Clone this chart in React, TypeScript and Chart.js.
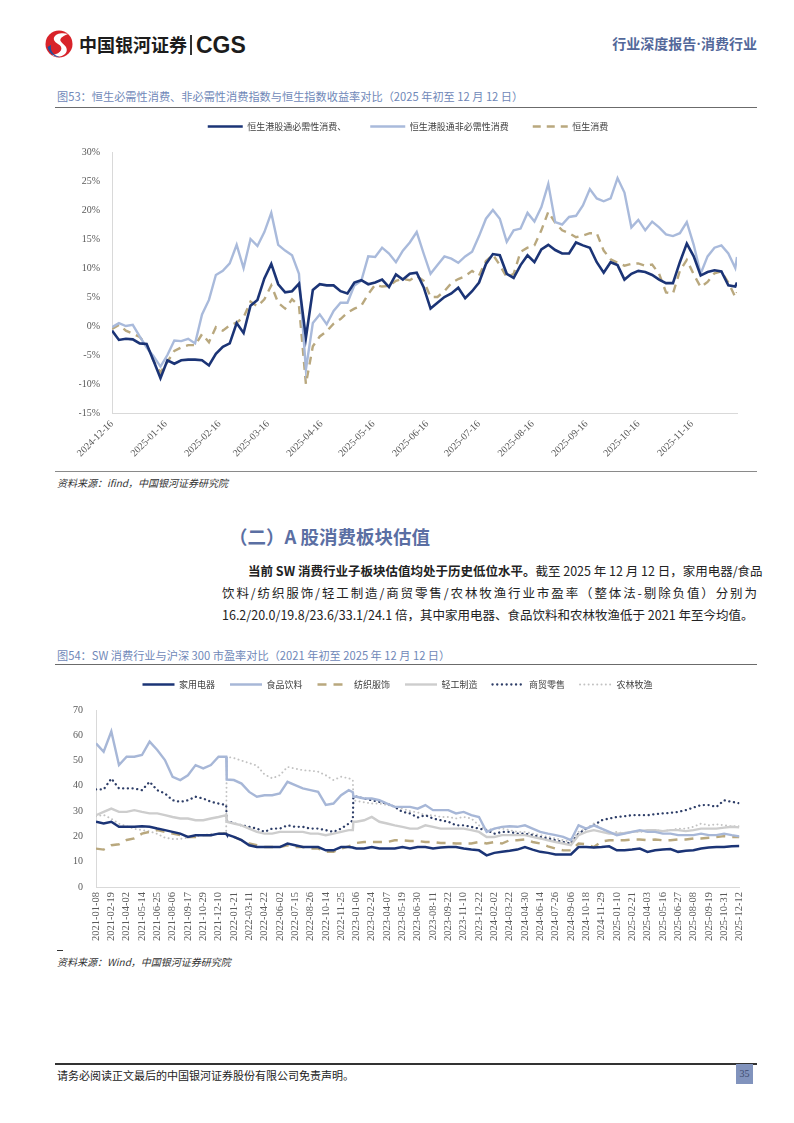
import React, { useEffect, useRef } from 'react';
import { Chart, registerables } from 'chart.js';

Chart.register(...registerables);

// ---------------- Chart 1 (图53) ----------------
const c1Names = ['恒生港股通必需性消费、', '恒生港股通非必需性消费', '恒生消费'];
const c1TickDates = ['2024-12-16', '2025-01-16', '2025-02-16', '2025-03-16', '2025-04-16', '2025-05-16', '2025-06-16', '2025-07-16', '2025-08-16', '2025-09-16', '2025-10-16', '2025-11-16'];
const c1Dates = [
  '2024-12-16', '2024-12-20', '2024-12-24', '2024-12-28', '2025-01-01', '2025-01-05', '2025-01-09', '2025-01-13', '2025-01-17', '2025-01-21',
  '2025-01-25', '2025-01-29', '2025-02-02', '2025-02-06', '2025-02-10', '2025-02-14', '2025-02-18', '2025-02-22', '2025-02-26', '2025-03-02',
  '2025-03-06', '2025-03-10', '2025-03-14', '2025-03-18', '2025-03-22', '2025-03-26', '2025-03-30', '2025-04-03', '2025-04-07', '2025-04-11',
  '2025-04-15', '2025-04-19', '2025-04-23', '2025-04-27', '2025-05-01', '2025-05-05', '2025-05-09', '2025-05-13', '2025-05-17', '2025-05-21',
  '2025-05-25', '2025-05-29', '2025-06-02', '2025-06-06', '2025-06-10', '2025-06-14', '2025-06-18', '2025-06-22', '2025-06-26', '2025-06-30',
  '2025-07-04', '2025-07-08', '2025-07-12', '2025-07-16', '2025-07-20', '2025-07-24', '2025-07-28', '2025-08-01', '2025-08-05', '2025-08-09',
  '2025-08-13', '2025-08-17', '2025-08-21', '2025-08-25', '2025-08-29', '2025-09-02', '2025-09-06', '2025-09-10', '2025-09-14', '2025-09-18',
  '2025-09-22', '2025-09-26', '2025-09-30', '2025-10-04', '2025-10-08', '2025-10-12', '2025-10-16', '2025-10-20', '2025-10-24', '2025-10-28',
  '2025-11-01', '2025-11-05', '2025-11-09', '2025-11-13', '2025-11-17', '2025-11-21', '2025-11-25', '2025-11-29', '2025-12-03', '2025-12-07',
  '2025-12-11', '2025-12-12',
];
const c1Staples = [
  -0.8, -2.4, -2.2, -2.3, -3.0, -3.1, -6.0, -9.0, -5.9, -6.5,
  -5.9, -5.8, -5.8, -5.9, -6.8, -4.8, -3.6, -3.0, 0.5, -1.2,
  3.5, 4.5, 8.2, 10.7, 7.2, 5.8, 6.0, 7.3, -2.0, 6.2,
  7.2, 7.0, 7.0, 6.0, 5.6, 7.5, 7.9, 7.2, 7.5, 8.0,
  6.7, 8.9, 8.0, 9.0, 9.2, 6.7, 3.0, 4.0, 5.0, 5.6,
  6.6, 4.8, 6.0, 7.5, 10.7, 12.4, 12.2, 9.0, 8.3, 10.5,
  12.2, 11.0, 13.2, 14.0, 13.1, 12.5, 12.5, 14.4, 13.9, 13.5,
  11.0, 9.2, 11.0, 10.5, 8.0, 9.0, 9.5, 9.3, 8.8, 8.0,
  7.4, 7.4, 11.0, 14.2, 12.0, 8.7, 9.3, 9.6, 9.4, 7.0,
  6.8, 7.5,
];
const c1Discretionary = [
  -0.2, 0.5, 0.0, 0.2, -1.8, -3.7, -5.2, -7.0, -5.0, -2.5,
  -2.6, -2.2, -3.0, 2.0, 4.5, 8.8, 9.5, 10.8, 14.0, 10.0,
  15.0, 13.8, 16.2, 19.5, 14.0, 13.0, 12.2, 9.0, -7.5, 0.5,
  2.0, 0.3, 2.6, 4.0, 4.0, 7.0, 7.8, 12.0, 11.9, 13.5,
  12.5, 11.0, 13.0, 14.4, 16.2, 12.5, 9.0, 10.5, 12.0, 11.6,
  10.9, 12.0, 12.8, 15.5, 18.5, 20.0, 18.5, 14.5, 16.5, 16.8,
  19.5, 18.0, 20.5, 24.5, 17.9, 17.5, 18.8, 19.0, 20.8, 23.6,
  22.0, 21.5, 22.0, 25.5, 23.0, 17.0, 18.3, 16.5, 18.0, 17.0,
  15.8, 15.5, 16.0, 17.9, 14.0, 9.0, 12.0, 13.5, 13.9, 12.5,
  10.0, 11.9,
];
const c1HSConsumer = [
  -0.5, 0.2, -0.8, -1.3, -1.9, -3.3, -6.0, -8.0, -6.2, -4.3,
  -3.7, -3.3, -3.3, -1.4, -2.8, -0.2, -0.8, 0.1, 0.6, 1.5,
  4.2, 3.4, 4.6, 7.0, 4.0, 3.0, 4.6, 3.5, -10.0, -3.5,
  -1.8, -0.9, 0.4, 1.2, 2.3, 3.0, 3.5, 5.5, 7.1, 6.8,
  6.9, 7.8, 8.1, 7.9, 8.6, 7.8, 5.0, 5.0, 6.0, 7.4,
  8.1, 8.6, 9.5, 8.7, 11.2, 12.3, 10.5, 8.4, 9.0, 12.8,
  13.5, 13.9, 16.5, 19.7, 17.8, 16.5, 16.0, 15.3, 15.6, 16.0,
  16.0, 13.0, 11.5, 10.9, 10.4, 10.7, 10.8, 10.4, 10.6, 9.0,
  5.8, 5.6, 9.5, 11.4, 8.9, 6.7, 7.6, 9.1, 9.4, 7.5,
  5.0, 5.8,
];

// ---------------- Chart 2 (图54) ----------------
const c2Names = ['家用电器', '食品饮料', '纺织服饰', '轻工制造', '商贸零售', '农林牧渔'];
const c2TickLabels = [
  '2021-01-08', '2021-02-19', '2021-04-02', '2021-05-14', '2021-06-25', '2021-08-06', '2021-09-17', '2021-10-29', '2021-12-10',
  '2022-01-21', '2022-03-11', '2022-04-22', '2022-06-02', '2022-07-15', '2022-08-26', '2022-10-14', '2022-11-25',
  '2023-01-06', '2023-02-24', '2023-04-07', '2023-05-19', '2023-06-30', '2023-08-11', '2023-09-22', '2023-11-10', '2023-12-22',
  '2024-02-02', '2024-03-22', '2024-04-30', '2024-06-14', '2024-07-26', '2024-09-06', '2024-10-18', '2024-11-29',
  '2025-01-10', '2025-02-21', '2025-04-03', '2025-05-16', '2025-06-27', '2025-08-08', '2025-09-19', '2025-10-31', '2025-12-12',
];
const c2TickStep = 30; // trading days between axis labels
// trading-day index of every sampled point
const c2Index = [
  0, 15, 30, 45, 60, 75, 90, 105, 120, 135, 150, 165, 180, 195, 210, 225, 240, 255,
  256,
  270, 285, 300, 315, 330, 345, 360, 375, 390, 405, 420, 435, 450, 465, 480, 495,
  503, 504,
  510, 525, 540, 555, 570, 585, 600, 615, 630,
  645, 660, 675, 690, 705, 720, 735, 750, 765, 780, 795, 810, 825, 840, 855, 870, 885, 900, 915, 930, 945,
  960, 975, 990, 1005, 1020, 1035, 1050, 1065, 1080, 1095, 1110, 1125, 1140, 1155, 1170, 1185, 1200, 1215, 1230, 1245, 1260,
];
const c2Appliance = [
  25.8, 25.1, 25.8, 23.8, 23.8, 23.8, 24.0, 23.8, 23.1, 22.5, 21.8, 21.1, 19.8, 20.5, 20.5, 20.5, 21.1, 21.1,
  20.8,
  19.8, 18.5, 16.5, 15.8, 15.8, 15.8, 15.8, 17.2, 16.5, 15.8, 15.8, 15.8, 14.5, 14.5, 15.8, 15.8,
  15.6, 15.5,
  15.2, 15.2, 15.8, 15.2, 15.2, 15.2, 15.8, 15.2, 15.8,
  15.8, 15.2, 15.6, 15.8, 15.8, 15.2, 14.8, 14.5, 12.5, 13.5, 13.9, 14.3, 14.8, 15.8, 14.8, 13.9, 13.5, 12.9, 12.9, 12.9, 15.8,
  15.8, 15.6, 15.8, 16.1, 14.5, 14.5, 14.8, 15.2, 13.9, 14.5, 14.8, 15.0, 13.9, 14.3, 14.5, 15.2, 15.6, 15.8, 15.8, 16.1, 16.2,
];
const c2Food = [
  56.8, 53.5, 61.5, 48.2, 51.5, 51.5, 52.2, 57.5, 54.2, 50.2, 43.6, 42.3, 44.2, 48.2, 46.9, 48.2, 51.5, 51.5,
  42.5,
  42.3, 40.9, 37.6, 35.7, 36.3, 36.3, 37.0, 41.6, 40.3, 39.0, 38.3, 37.6, 32.5, 33.0, 36.3, 38.3,
  37.5, 35.7,
  35.7, 35.0, 35.0, 34.3, 33.0, 31.7, 31.7, 31.7, 31.0,
  32.4, 30.4, 30.4, 30.4, 29.1, 29.7, 28.4, 27.7, 21.8, 23.1, 23.8, 24.0, 23.8, 24.4, 23.1, 21.8, 21.1, 20.5, 19.8, 18.5, 24.4,
  23.1, 24.4, 23.1, 21.8, 20.5, 21.1, 21.8, 22.5, 21.8, 21.8, 21.1, 21.1, 20.5, 20.5, 20.5, 21.1, 20.5, 20.5, 21.1, 20.5, 20.0,
];
const c2Textile = [
  15.2, 14.8, 16.5, 16.9, 18.6, 19.2, 21.1, 21.8, 22.5, 21.8, 21.1, 20.5, 19.8, 19.8, 20.5, 20.5, 21.1, 21.1,
  20.8,
  19.8, 18.5, 17.2, 16.5, 15.8, 15.8, 15.8, 16.5, 15.8, 15.8, 15.2, 15.2, 13.9, 13.9, 15.2, 16.1,
  16.8, 17.0,
  17.4, 17.8, 17.8, 17.8, 17.8, 18.5, 18.5, 18.2, 18.2,
  17.8, 17.8, 17.4, 17.4, 17.2, 17.2, 17.2, 17.8, 17.2, 17.8, 17.2, 18.5, 18.5, 18.8, 17.8, 17.2, 16.1, 15.2, 14.5, 14.5, 17.2,
  16.9, 15.8, 18.0, 18.5, 18.5, 18.5, 18.8, 18.8, 18.5, 18.8, 18.5, 18.5, 18.8, 18.8, 19.2, 19.2, 19.5, 19.8, 20.1, 19.8, 19.8,
];
const c2LightMfg = [
  28.4, 29.7, 31.0, 29.7, 29.7, 30.4, 29.7, 29.1, 29.1, 28.4, 27.7, 27.1, 27.1, 26.4, 26.4, 27.1, 27.7, 28.4,
  25.8,
  25.1, 24.4, 23.1, 21.8, 21.1, 21.1, 21.8, 21.8, 21.8, 21.8, 21.1, 21.1, 20.5, 21.1, 21.8, 22.5,
  22.5, 25.8,
  25.8, 26.4, 27.7, 25.8, 25.1, 24.4, 23.8, 23.1, 23.1,
  24.4, 23.8, 23.1, 23.1, 23.1, 23.1, 22.5, 21.8, 19.8, 19.8, 20.5, 20.5, 20.5, 20.5, 19.8, 19.2, 18.5, 17.8, 17.2, 16.5, 20.5,
  21.8, 22.5, 21.8, 21.1, 21.1, 21.4, 21.8, 22.1, 22.5, 22.5, 22.1, 22.5, 22.5, 22.1, 22.5, 23.1, 23.1, 23.1, 23.5, 23.8, 23.6,
];
const c2Retail = [
  38.6, 38.6, 42.9, 39.0, 39.0, 39.0, 38.3, 41.6, 38.3, 37.0, 34.3, 33.7, 34.3, 35.7, 35.0, 33.7, 33.0, 32.4,
  26.4,
  25.1, 24.4, 23.8, 23.1, 21.8, 23.1, 23.1, 24.4, 23.8, 23.8, 23.1, 23.1, 22.5, 21.8, 23.1, 25.1,
  26.4, 35.7,
  35.7, 35.0, 34.3, 33.7, 33.0, 31.7, 29.7, 29.1, 27.5,
  28.4, 27.1, 26.4, 25.8, 24.4, 24.4, 23.8, 23.1, 22.5, 21.1, 21.8, 21.8, 21.1, 21.1, 20.5, 19.8, 19.2, 18.5, 17.8, 17.2, 21.1,
  23.1, 24.4, 26.4, 27.1, 27.7, 28.0, 28.4, 28.4, 28.4, 28.8, 29.1, 29.3, 29.7, 30.4, 31.4, 32.4, 32.4, 31.7, 34.3, 33.7, 33.1,
];
const c2Agri = [
  28.0, 28.5, 27.0, 25.0, 24.0, 23.0, 22.5, 22.0, 21.0, 19.5, 19.0, 19.0, 19.5, 20.0, 20.5, 21.0, 21.0, 21.5,
  51.5,
  51.0, 50.0, 49.0, 48.0, 44.5, 43.0, 44.2, 47.5, 46.8, 46.2, 46.0, 45.6, 44.2, 42.3, 43.6, 43.0,
  42.3, 34.3,
  34.0, 33.5, 33.0, 33.0, 32.4, 32.0, 31.0, 30.0, 29.5,
  28.4, 28.4, 27.7, 27.7, 27.1, 27.7, 27.1, 24.4, 22.5, 23.1, 23.1, 22.5, 21.8, 21.8, 21.1, 20.5, 19.8, 19.2, 18.5, 17.8, 21.8,
  23.1, 25.1, 23.1, 21.1, 21.8, 21.1, 21.8, 21.8, 22.1, 22.5, 22.1, 22.5, 23.1, 23.1, 23.8, 25.1, 24.4, 24.8, 24.4, 24.0, 24.1,
];

// ---------------- helpers ----------------
const SERIF = '"Liberation Serif", "Times New Roman", serif';
const CJK = '"Noto Sans CJK SC", "Noto Sans", sans-serif';
const TICK_COLOR = '#595959';
const AXIS_COLOR = '#d9d9d9';

const dayNum = (s: string) => {
  const [y, m, d] = s.split('-').map(Number);
  return (Date.UTC(y, m - 1, d) - Date.UTC(2024, 11, 16)) / 86400000;
};

const legendOpts = (padding: number, lineLen: number) => ({
  position: 'top' as const,
  weight: 3000,
  labels: {
    usePointStyle: true,
    pointStyle: 'line',
    pointStyleWidth: lineLen,
    padding,
    color: '#404040',
    font: { family: CJK, size: 9 },
    generateLabels: (chart: any) => {
      const items = (Chart.defaults.plugins.legend.labels as any).generateLabels(chart);
      return items.map((it: any) => {
        const ds: any = chart.data.datasets[it.datasetIndex];
        return {
          ...it,
          pointStyle: 'line',
          strokeStyle: ds.borderColor,
          fillStyle: ds.borderColor,
          lineWidth: ds.borderWidth,
          lineDash: ds.borderDash || [],
          lineCap: ds.borderCapStyle || 'butt',
        };
      });
    },
  },
});
const spacerTitle = { display: true, text: '', padding: 0, font: { size: 11, lineHeight: 1 } };

function ChartOne() {
  const ref = useRef<HTMLCanvasElement>(null);
  useEffect(() => {
    const pts = (vals: number[]) => c1Dates.map((d, i) => ({ x: dayNum(d), y: vals[i] }));
    const chart = new Chart(ref.current!, {
      type: 'line',
      data: {
        datasets: [
          { label: c1Names[0], data: pts(c1Staples), borderColor: '#1b3476', backgroundColor: '#1b3476', borderWidth: 2.6, pointRadius: 0, tension: 0 },
          { label: c1Names[1], data: pts(c1Discretionary), borderColor: '#a9badb', backgroundColor: '#a9badb', borderWidth: 2.4, pointRadius: 0, tension: 0 },
          { label: c1Names[2], data: pts(c1HSConsumer), borderColor: '#b9a87e', backgroundColor: '#b9a87e', borderWidth: 2.4, borderDash: [8, 6], pointRadius: 0, tension: 0 },
        ],
      },
      options: {
        animation: false,
        responsive: false,
        maintainAspectRatio: false,
        layout: { padding: { top: 0, right: 20, bottom: 0, left: 24 } },
        plugins: {
          legend: legendOpts(24, 35) as any,
          title: spacerTitle as any,
          tooltip: { enabled: false },
        },
        scales: {
          x: {
            type: 'linear',
            min: 0,
            max: dayNum('2025-12-12'),
            grid: { display: false, drawTicks: false },
            border: { display: true, color: AXIS_COLOR },
            afterBuildTicks: (s: any) => { s.ticks = c1TickDates.map((d) => ({ value: dayNum(d) })); },
            afterFit: (s: any) => { s.height = 59; },
            ticks: {
              autoSkip: false,
              maxRotation: 45,
              minRotation: 45,
              padding: 5,
              color: TICK_COLOR,
              font: { family: SERIF, size: 10 },
              callback: (_v: any, i: number) => c1TickDates[i],
            },
          },
          y: {
            min: -15,
            max: 30,
            grid: { display: false, drawTicks: false },
            border: { display: true, color: AXIS_COLOR },
            afterFit: (s: any) => { s.width = 33; },
            ticks: {
              stepSize: 5,
              padding: 12,
              color: TICK_COLOR,
              font: { family: SERIF, size: 10 },
              callback: (v: any) => v + '%',
            },
          },
        },
      },
    });
    return () => chart.destroy();
  }, []);
  return <canvas ref={ref} width={702} height={374} style={{ display: 'block' }} />;
}

function ChartTwo() {
  const ref = useRef<HTMLCanvasElement>(null);
  useEffect(() => {
    const pts = (vals: number[]) => c2Index.map((x, i) => ({ x, y: vals[i] }));
    const chart = new Chart(ref.current!, {
      type: 'line',
      data: {
        datasets: [
          { label: c2Names[0], data: pts(c2Appliance), borderColor: '#1b3476', backgroundColor: '#1b3476', borderWidth: 2.5, pointRadius: 0, tension: 0 },
          { label: c2Names[1], data: pts(c2Food), borderColor: '#a7b7d7', backgroundColor: '#a7b7d7', borderWidth: 2.4, pointRadius: 0, tension: 0 },
          { label: c2Names[2], data: pts(c2Textile), borderColor: '#b9a87e', backgroundColor: '#b9a87e', borderWidth: 2.4, borderDash: [9, 7], pointRadius: 0, tension: 0 },
          { label: c2Names[3], data: pts(c2LightMfg), borderColor: '#cdcdcd', backgroundColor: '#cdcdcd', borderWidth: 2.4, pointRadius: 0, tension: 0 },
          { label: c2Names[4], data: pts(c2Retail), borderColor: '#2e3e68', backgroundColor: '#2e3e68', borderWidth: 2.3, borderDash: [0.1, 4.6], borderCapStyle: 'round', pointRadius: 0, tension: 0 },
          { label: c2Names[5], data: pts(c2Agri), borderColor: '#c2c2c2', backgroundColor: '#c2c2c2', borderWidth: 1.9, borderDash: [0.1, 4.2], borderCapStyle: 'round', pointRadius: 0, tension: 0 },
        ],
      },
      options: {
        animation: false,
        responsive: false,
        maintainAspectRatio: false,
        layout: { padding: { top: 0, right: 17, bottom: 0, left: 0 } },
        plugins: {
          legend: legendOpts(15, 32) as any,
          title: spacerTitle as any,
          tooltip: { enabled: false },
        },
        scales: {
          x: {
            type: 'linear',
            min: 0,
            max: (c2TickLabels.length - 1) * c2TickStep,
            grid: { display: false, drawTicks: false },
            border: { display: true, color: AXIS_COLOR },
            afterBuildTicks: (s: any) => { s.ticks = c2TickLabels.map((_l, i) => ({ value: i * c2TickStep })); },
            afterFit: (s: any) => { s.height = 60; },
            ticks: {
              autoSkip: false,
              maxRotation: 90,
              minRotation: 90,
              padding: 5,
              color: TICK_COLOR,
              font: { family: SERIF, size: 10.5 },
              callback: (_v: any, i: number) => c2TickLabels[i],
            },
          },
          y: {
            min: 0,
            max: 70,
            grid: { display: false, drawTicks: false },
            border: { display: true, color: AXIS_COLOR },
            afterFit: (s: any) => { s.width = 41; },
            ticks: {
              stepSize: 10,
              padding: 13,
              color: TICK_COLOR,
              font: { family: SERIF, size: 10 },
            },
          },
        },
      },
    });
    return () => chart.destroy();
  }, []);
  return <canvas ref={ref} width={702} height={282} style={{ display: 'block' }} />;
}

const txt = (x: number, yc: number, size: number, extra: React.CSSProperties = {}): React.CSSProperties => ({
  position: 'absolute',
  left: x,
  top: yc - size * 0.7,
  lineHeight: `${size * 1.4}px`,
  fontSize: size,
  fontFamily: CJK,
  whiteSpace: 'nowrap',
  margin: 0,
  ...extra,
});

const rule = (x: number, y: number, w: number, h: number, color: string): React.CSSProperties => ({
  position: 'absolute', left: x, top: y, width: w, height: h, background: color,
});

export default function App() {
  return (
    <div style={{ position: 'absolute', left: 0, top: 0, width: 794, height: 1123, background: '#fff', overflow: 'hidden', color: '#222' }}>
      {/* header */}
      <svg style={{ position: 'absolute', left: 44, top: 29 }} width={30} height={30} viewBox="0 0 30 30">
        <circle cx={15} cy={15} r={13.5} fill="#d8232a" />
        <path d="M24 5 C 12 2, 5 10, 14 15 C 20 18, 18 25, 8 26 C 14 30, 26 26, 22 18 C 19 13, 10 11, 24 5 Z" fill="#ffffff" />
        <path d="M3.5 18 C 5 24, 10 28, 16 28.3 C 9 26, 6 22, 7 16 Z" fill="#1e4f9e" />
      </svg>
      <div style={txt(79, 45, 18, { fontWeight: 700, color: '#1c1c1c' })}>中国银河证券</div>
      <div style={rule(190, 35, 1.5, 20, '#333')} />
      <div style={txt(196, 45, 23, { fontWeight: 700, color: '#1c1c1c', fontFamily: '"Liberation Sans", Arial, sans-serif' })}>CGS</div>
      <div style={{ ...txt(0, 44, 14, { fontWeight: 700, color: '#53689a' }), left: undefined, right: 37 }}>
        行业深度报告<span style={{ fontFamily: SERIF, fontWeight: 700 }}>·</span>消费行业
      </div>

      {/* chart 1 */}
      <div style={txt(57, 97, 11.2, { color: '#7088b8' })}>图53：恒生必需性消费、非必需性消费指数与恒生指数收益率对比（2025 年初至 12 月 12 日）</div>
      <div style={rule(55, 107, 702, 1, '#6b6b6b')} />
      <div style={{ position: 'absolute', left: 55, top: 98, width: 702, height: 374 }}>
        <ChartOne />
      </div>
      <div style={rule(55, 471, 702, 1, '#8a8a8a')} />
      <div style={txt(57, 483, 10, { fontStyle: 'italic', color: '#333' })}>资料来源：ifind，中国银河证券研究院</div>

      {/* section text */}
      <div style={txt(229, 537, 18.5, { fontWeight: 700, color: '#5b6fa3' })}>（二）A 股消费板块估值</div>
      <div style={{ ...txt(248, 571, 12.5), width: 509, textAlign: 'justify', textAlignLast: 'justify' }}>
        <b>当前 SW 消费行业子板块估值均处于历史低位水平。</b>截至 2025 年 12 月 12 日，家用电器/食品
      </div>
      <div style={{ ...txt(222, 593, 12.5), width: 535, textAlign: 'justify', textAlignLast: 'justify' }}>
        饮料/纺织服饰/轻工制造/商贸零售/农林牧渔行业市盈率（整体法-剔除负值）分别为
      </div>
      <div style={txt(222, 615, 12.5)}>16.2/20.0/19.8/23.6/33.1/24.1 倍，其中家用电器、食品饮料和农林牧渔低于 2021 年至今均值。</div>

      {/* chart 2 */}
      <div style={txt(57, 656, 11.2, { color: '#7088b8' })}>图54：SW 消费行业与沪深 300 市盈率对比（2021 年初至 2025 年 12 月 12 日）</div>
      <div style={rule(55, 664, 702, 1, '#6b6b6b')} />
      <div style={{ position: 'absolute', left: 55, top: 665, width: 702, height: 282 }}>
        <ChartTwo />
      </div>
      <div style={rule(57, 950, 6, 1, '#333')} />
      <div style={txt(57, 962, 10, { fontStyle: 'italic', color: '#333' })}>资料来源：Wind，中国银河证券研究院</div>

      {/* footer */}
      <div style={rule(55, 1063, 702, 1.5, '#333')} />
      <div style={txt(57, 1076, 11, { color: '#222' })}>请务必阅读正文最后的中国银河证券股份有限公司免责声明。</div>
      <div style={{ position: 'absolute', left: 736, top: 1064, width: 17, height: 20, background: '#8193bd', color: '#3d4b70', fontSize: 10, lineHeight: '20px', textAlign: 'center', fontFamily: SERIF }}>35</div>
    </div>
  );
}
